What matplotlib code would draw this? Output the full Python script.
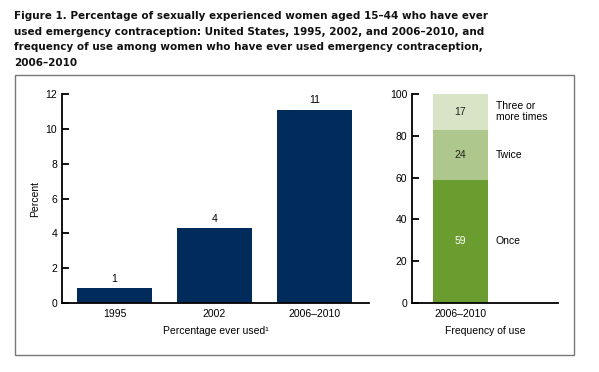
import matplotlib
matplotlib.use("Agg")
import matplotlib.pyplot as plt
from matplotlib.patches import Rectangle

# Datos
anios = ["1995", "2002", "2006\u20132010"]
porcentaje_uso = [0.84, 4.3, 11.1]
etiquetas_uso = ["1", "4", "11"]

frecuencias = ["Once", "Twice", "Three or\nmore times"]
frecuencia_valores = [59, 24, 17]
frecuencia_colores = ["#6b9c30", "#aec78c", "#d9e4c7"]
frecuencia_texto = ["white", "#222222", "#222222"]

titulo = ("Figure 1. Percentage of sexually experienced women aged 15\u201344 who have ever\n"
          "used emergency contraception: United States, 1995, 2002, and 2006\u20132010, and\n"
          "frequency of use among women who have ever used emergency contraception,\n"
          "2006\u20132010")

W, H = 599, 372
FS = 7.5
plt.rcParams["font.family"] = ["Liberation Sans", "DejaVu Sans"]
fig = plt.figure(figsize=(W / 100, H / 100), dpi=100)

# Titulo
fig.text(14 / W, 1 - 11 / H, titulo, fontsize=7.5, fontweight="bold",
         family="DejaVu Sans", va="top", ha="left", linespacing=1.7, color="#111111")

# Marco
fig.patches.append(Rectangle((15 / W, 1 - 355 / H), (574 - 15) / W, (355 - 75) / H,
                             transform=fig.transFigure, fill=False,
                             edgecolor="#777777", linewidth=1.0))


def estilo(ax):
    for s in ["top", "right"]:
        ax.spines[s].set_visible(False)
    for s in ["left", "bottom"]:
        ax.spines[s].set_linewidth(1.3)
    ax.tick_params(axis="y", direction="in", length=5, width=1.3, pad=3.5, labelsize=FS)
    ax.tick_params(axis="x", length=0, pad=4.5, labelsize=FS)


# Panel izquierdo
ax1 = fig.add_axes([62 / W, 1 - 303 / H, (369 - 62) / W, 209 / H])
x = range(len(anios))
ax1.bar(x, porcentaje_uso, width=0.75, color="#002b5a")
for xi, v, t in zip(x, porcentaje_uso, etiquetas_uso):
    ax1.text(xi, v + 0.25, t, ha="center", va="bottom", fontsize=FS)
ax1.set_xlim(-0.525, 2.545)
ax1.set_ylim(0, 12)
ax1.set_yticks(range(0, 13, 2))
ax1.set_xticks(list(x))
ax1.set_xticklabels(anios)
ax1.set_ylabel("Percent", fontsize=FS, labelpad=4)
ax1.set_xlabel("Percentage ever used\u00b9", fontsize=FS, labelpad=4.5)
estilo(ax1)

# Panel derecho
ax2 = fig.add_axes([412 / W, 1 - 303 / H, 146 / W, 209 / H])
base = 0
for nombre, v, c, tc in zip(frecuencias, frecuencia_valores, frecuencia_colores, frecuencia_texto):
    ax2.bar(0, v, bottom=base, width=0.55, color=c)
    ax2.text(0, base + v / 2, str(v), ha="center", va="center", fontsize=FS, color=tc)
    ax2.text(0.355, base + v / 2, nombre, ha="left", va="center", fontsize=FS,
             linespacing=1.15)
    base += v
ax2.set_xlim(-0.485, 0.975)
ax2.set_ylim(0, 100)
ax2.set_yticks(range(0, 101, 20))
ax2.set_xticks([0])
ax2.set_xticklabels(["2006\u20132010"])
ax2.set_xlabel("Frequency of use", fontsize=FS, labelpad=4.5)
estilo(ax2)

fig.savefig("out.png", dpi=100)
